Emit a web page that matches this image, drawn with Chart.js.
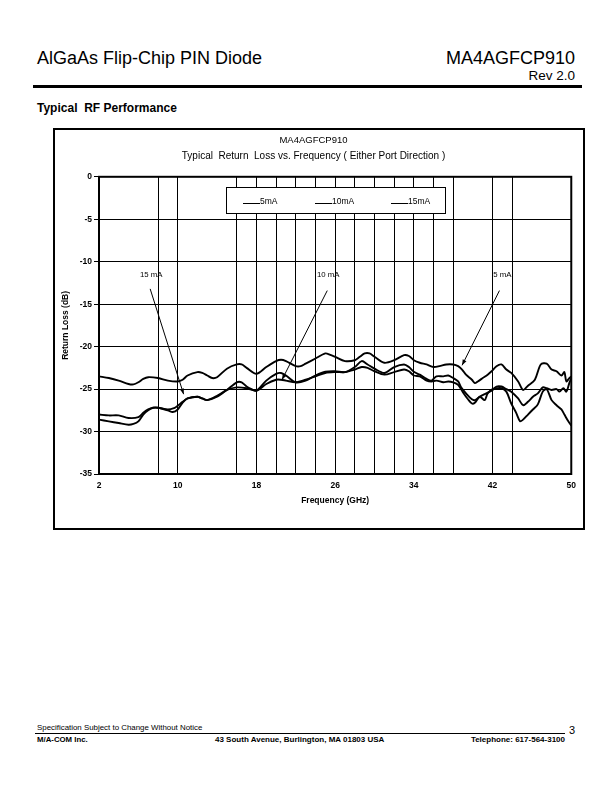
<!DOCTYPE html>
<html>
<head>
<meta charset="utf-8">
<script src="https://cdn.jsdelivr.net/npm/chart.js@4.4.0/dist/chart.umd.min.js"></script>
<style>
    body { margin: 0; width: 612px; height: 792px; position: relative; background: #fff; color: #000;
           font-family: "Liberation Sans", Arial, sans-serif; }
    .t { position: absolute; white-space: nowrap; line-height: 1; }
    .b { font-weight: bold; }
    #frame { position: absolute; left: 53px; top: 128px; width: 532px; height: 402px;
             border: 2px solid #000; box-sizing: border-box; }
    #rlChart { position: absolute; left: 0; top: 0; }
</style>
</head>
<body>

<div class="t" style="left:37px; top:49px; font-size:18px;">AlGaAs Flip-Chip PIN Diode</div>
<div class="t" style="right:37px; top:49px; font-size:18px;">MA4AGFCP910</div>
<div class="t" style="right:37px; top:68.6px; font-size:13.5px;">Rev 2.0</div>
<div style="position:absolute; left:33px; top:85px; width:549px; height:3px; background:#000;"></div>
<div class="t b" style="left:37px; top:102px; font-size:12px;">Typical&nbsp; RF Performance</div>

<div id="frame">
    <canvas id="rlChart" width="528" height="398"></canvas>
</div>

<div class="t" style="left:37px; top:723.5px; font-size:7.9px;">Specification Subject to Change Without Notice</div>
<div class="t" style="right:37px; top:724.7px; font-size:11px;">3</div>
<div style="position:absolute; left:35px; top:733px; width:530px; height:1px; background:#000;"></div>
<div class="t b" style="left:37px; top:736.4px; font-size:7.8px;">M/A-COM Inc.</div>
<div class="t b" style="left:215px; top:736.4px; font-size:8px;">43 South Avenue, Burlington, MA 01803 USA</div>
<div class="t b" style="right:47px; top:736.4px; font-size:8px;">Telephone: 617-564-3100</div>

<script>
// Return loss traces (GHz / dB)
const freq5 = [2,3,4,5,5.5,6,6.5,7,8,9,
    10,10.5,11,12,12.5,13,13.5,14,15,16,
    16.5,17,18,19,20,20.5,21,22,22.5,23,
    24,25,25.5,26,27,28,28.5,29,29.5,30,
    31,32,33,33.5,34,34.6,35.3,36,36.6,37.3,
    38,38.5,38.9,39.3,39.9,40.2,40.5,41,41.5,41.9,
    42.4,42.9,43.4,43.9,44.6,45.1,45.6,46.3,46.9,47.5,
    48,48.5,49,49.3,49.5,49.8,50];
const rl5 = [-23.5,-23.7,-24.0,-24.4,-24.45,-24.2,-23.8,-23.6,-23.7,-24.0,
    -24.1,-23.9,-23.4,-23.0,-23.1,-23.4,-23.7,-23.6,-22.6,-22.1,
    -22.1,-22.5,-23.2,-22.4,-21.7,-21.55,-21.7,-22.3,-22.3,-22.0,
    -21.4,-20.8,-20.96,-21.2,-21.7,-21.6,-21.2,-20.8,-20.8,-21.2,
    -21.9,-21.6,-21.0,-21.1,-21.6,-21.9,-22.1,-22.4,-22.3,-22.1,
    -22.1,-22.3,-22.7,-23.3,-23.9,-24.3,-24.1,-23.7,-23.3,-22.9,
    -22.3,-22.1,-22.7,-23.1,-24.1,-25.1,-24.6,-23.9,-22.1,-22.0,
    -22.7,-22.9,-23.4,-23.0,-24.1,-23.7,-23.5];

const freq10 = [2,3,4,5,5.5,6,6.5,7,7.5,8,
    9,9.5,10,10.5,11,12,12.5,13,14,15,
    16,17,18,19,20,20.5,21,22,23,24,
    25,26,27,28,28.7,29.3,30,31,32,33,
    33.5,34,34.6,35.3,35.8,36.3,37,37.5,38,38.5,
    39,39.5,39.9,40.2,40.7,41.2,41.5,42,42.4,42.9,
    43.4,43.9,44.4,44.8,45.1,45.6,46.1,46.6,47.1,47.5,
    48,48.5,49,49.3,49.7,50];
const rl10 = [-28.6,-28.8,-29.0,-29.2,-29.1,-28.8,-28.0,-27.5,-27.2,-27.2,
    -27.5,-27.7,-27.4,-26.6,-26.1,-25.9,-26.1,-26.3,-25.8,-25.1,
    -24.8,-24.9,-25.2,-24.4,-23.9,-23.9,-24.0,-24.2,-23.9,-23.5,
    -23.1,-23.0,-23.0,-22.7,-22.4,-22.5,-22.9,-23.3,-23.0,-22.7,
    -22.9,-23.4,-23.5,-24.0,-24.1,-24.0,-24.2,-24.1,-24.2,-24.5,
    -25.4,-26.2,-26.7,-26.6,-25.9,-26.3,-25.5,-25.0,-24.9,-24.9,
    -25.3,-26.7,-27.8,-28.8,-28.6,-28.0,-27.4,-26.8,-25.3,-25.0,
    -26.3,-26.9,-27.4,-28.0,-28.8,-29.3];

const freq15 = [2,3,4,5,6,6.5,7,7.5,8,9,
    9.7,10,10.5,11,12,12.5,13,14,15,16,
    16.5,17,17.5,18,19,20,20.5,21,22,23,
    24,25,26,27,28,28.7,29.3,30,31,32,
    33,33.5,34,34.6,35.3,35.8,36.3,37,37.5,38,
    38.5,38.8,39.3,39.9,40.2,40.7,41.2,41.7,42,42.4,
    42.9,43.4,43.9,44.6,45.1,45.6,46.1,46.6,47.1,47.5,
    48,48.5,48.8,49.2,49.5,49.8,50];
const rl15 = [-28.0,-28.1,-28.1,-28.4,-28.3,-27.8,-27.4,-27.2,-27.2,-27.4,
    -27.2,-26.96,-26.5,-26.1,-25.9,-26.1,-26.3,-25.9,-25.1,-24.2,
    -24.2,-24.7,-25.0,-25.2,-24.0,-23.2,-23.1,-23.4,-24.2,-24.0,
    -23.4,-22.96,-22.9,-23.0,-22.4,-21.7,-22.1,-22.6,-23.1,-22.4,
    -22.1,-22.4,-22.96,-23.3,-23.8,-24.0,-23.5,-23.5,-23.4,-23.7,
    -24.1,-24.8,-25.5,-26.2,-26.3,-25.9,-25.6,-25.3,-25.1,-24.7,
    -24.7,-25.0,-25.3,-26.1,-26.9,-26.5,-25.9,-25.5,-24.8,-24.9,
    -25.1,-25.0,-25.3,-24.9,-25.3,-24.3,-23.7];

const seriesNames = ["5mA", "10mA", "15mA"];
const xTickLabels = [2, 10, 18, 26, 34, 42, 50];
const xGridLines = [8, 10, 16, 18, 20, 22, 24, 26, 28, 30, 32, 34, 36, 38, 42, 44];

// callouts: text position and arrow (from -> to), in GHz / dB
const noteText = ["15 mA", "10 mA", "5 mA"];
const noteX = [7.3, 25.3, 43.0];
const noteY = [-11.6, -11.6, -11.6];
const arrowFromX = [7.2, 25.2, 42.7];
const arrowFromY = [-13.2, -13.4, -13.4];
const arrowToX = [10.6, 20.6, 38.9];
const arrowToY = [-25.6, -23.9, -22.2];

const FONT = '"Liberation Sans", Arial, sans-serif';
Chart.defaults.font.family = FONT;
Chart.defaults.color = "#000";

const pts = (xs, ys) => xs.map((f, i) => ({ x: f, y: ys[i] }));

// frame round the plot, boxed legend and the arrow callouts
const overlay = {
    id: "overlay",
    afterDatasetsDraw(chart) {
        const { ctx, chartArea: a, scales: { x, y } } = chart;
        ctx.save();
        ctx.strokeStyle = "#000";
        ctx.fillStyle = "#000";

        ctx.lineWidth = 2;
        ctx.strokeRect(a.left, a.top, a.right - a.left, a.bottom - a.top);

        // legend
        const bx = Math.round(a.left + 127), by = Math.round(a.top + 10);
        ctx.fillStyle = "#fff";
        ctx.fillRect(bx, by, 219, 26);
        ctx.lineWidth = 1;
        ctx.strokeRect(bx + 0.5, by + 0.5, 219, 26);
        ctx.fillStyle = "#000";
        ctx.font = "8.5px " + FONT;
        ctx.textBaseline = "alphabetic";
        const offs = [17, 89, 165];
        chart.data.datasets.forEach((ds, i) => {
            const lx = bx + offs[i];
            ctx.beginPath();
            ctx.moveTo(lx, by + 16.5);
            ctx.lineTo(lx + 17, by + 16.5);
            ctx.stroke();
            ctx.fillText(ds.label, lx + 17, by + 17);
        });

        // callouts
        ctx.font = "7.8px " + FONT;
        ctx.textAlign = "center";
        ctx.textBaseline = "middle";
        noteText.forEach((t, i) => {
            ctx.fillText(t, x.getPixelForValue(noteX[i]), y.getPixelForValue(noteY[i]));
            const x0 = x.getPixelForValue(arrowFromX[i]), y0 = y.getPixelForValue(arrowFromY[i]);
            const x1 = x.getPixelForValue(arrowToX[i]), y1 = y.getPixelForValue(arrowToY[i]);
            ctx.lineWidth = 1;
            ctx.beginPath();
            ctx.moveTo(x0, y0);
            ctx.lineTo(x1, y1);
            ctx.stroke();
            const ang = Math.atan2(y1 - y0, x1 - x0);
            ctx.beginPath();
            ctx.moveTo(x1, y1);
            ctx.lineTo(x1 - 6 * Math.cos(ang - 0.35), y1 - 6 * Math.sin(ang - 0.35));
            ctx.lineTo(x1 - 6 * Math.cos(ang + 0.35), y1 - 6 * Math.sin(ang + 0.35));
            ctx.closePath();
            ctx.fill();
        });
        ctx.restore();
    }
};

const traceStyle = { borderColor: "#000", borderWidth: 1.9, pointRadius: 0, tension: 0.3, fill: false };

new Chart(document.getElementById("rlChart"), {
    type: "line",
    data: {
        datasets: [
            { label: seriesNames[0], data: pts(freq5, rl5), ...traceStyle },
            { label: seriesNames[1], data: pts(freq10, rl10), ...traceStyle },
            { label: seriesNames[2], data: pts(freq15, rl15), ...traceStyle }
        ]
    },
    options: {
        responsive: false,
        animation: false,
        layout: { padding: { left: 0, right: 11, top: 0, bottom: 0 } },
        plugins: {
            legend: { display: false },
            tooltip: { enabled: false },
            title: {
                display: true,
                text: "MA4AGFCP910",
                font: { size: 9.5, weight: "normal" },
                padding: { top: 5, bottom: 0 }
            },
            subtitle: {
                display: true,
                text: "Typical  Return  Loss vs. Frequency ( Either Port Direction )",
                font: { size: 10 },
                padding: { top: 4, bottom: 14.4 }
            }
        },
        scales: {
            x: {
                type: "linear",
                min: 2,
                max: 50,
                afterFit: s => { s.height = 54; },
                ticks: {
                    stepSize: 2,
                    autoSkip: false,
                    maxRotation: 0,
                    padding: 7,
                    font: { size: 8.5, weight: "bold" },
                    callback: v => xTickLabels.includes(v) ? String(v) : ""
                },
                grid: {
                    color: c => xGridLines.includes(c.tick.value) ? "#000" : "rgba(0,0,0,0)",
                    lineWidth: 1,
                    drawTicks: false
                },
                border: { color: "#000", width: 2 },
                title: {
                    display: true,
                    text: "Frequency (GHz)",
                    font: { size: 8.5, weight: "bold" },
                    padding: { top: 4, bottom: 22 }
                }
            },
            y: {
                min: -35,
                max: 0,
                afterFit: s => { s.width = 44; },
                ticks: {
                    stepSize: 5,
                    padding: 2,
                    font: { size: 8.5, weight: "bold" },
                    callback: v => String(v)
                },
                grid: { color: "#000", lineWidth: 1, tickLength: 5 },
                border: { color: "#000", width: 2 },
                title: {
                    display: true,
                    text: "Return Loss (dB)",
                    font: { size: 8.5, weight: "bold" },
                    padding: { top: 6, bottom: 0 }
                }
            }
        }
    },
    plugins: [overlay]
});
</script>
</body>
</html>
